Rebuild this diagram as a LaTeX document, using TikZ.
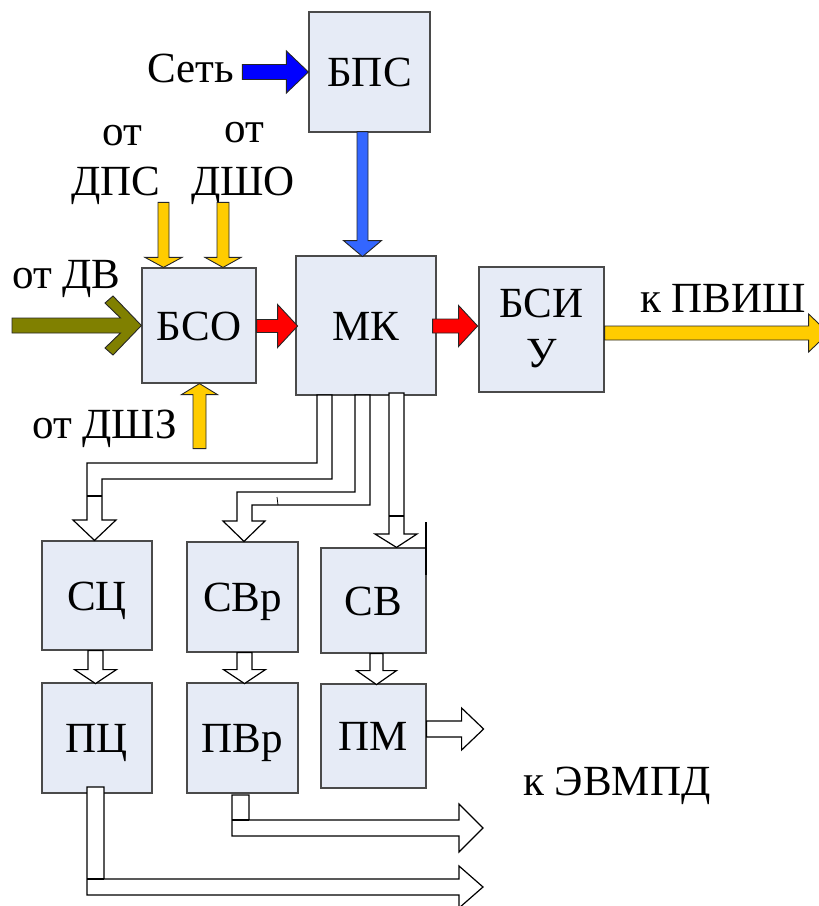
\documentclass[tikz,border=0pt]{standalone}
\usepackage{fontspec}
\setmainfont{Liberation Serif}
\usetikzlibrary{calc}

\definecolor{boxfill}{HTML}{E6EBF6}
\definecolor{boxline}{HTML}{4A4A4A}
\definecolor{amber}{HTML}{FFCC00}
\definecolor{olivegreen}{HTML}{808000}
\definecolor{netblue}{HTML}{0000FF}
\definecolor{feedblue}{HTML}{3366FF}
\definecolor{sigred}{HTML}{FF0000}

\newcommand\blockfont{\fontsize{43}{50}\selectfont}

\tikzset{
  unit/.style={draw=boxline, fill=boxfill, line width=1.2pt, inner sep=0pt,
               text height=29pt, text depth=0pt, font=\blockfont},
  lbl/.style={inner sep=0pt, font=\blockfont},
  solidarrow/.style={draw=black!85, line width=0.9pt},
  hollow/.style={draw=black, fill=white, line width=1.2pt, line join=miter},
  thinline/.style={draw=black, line width=1.2pt},
  % straight block arrow pointing along +x:
  % length, shaft half-width, head half-width, head length
  pics/barrow/.style n args={4}{code={
    \path[pic actions] (0,-#2) -- ({#1-#4},-#2) -- ({#1-#4},-#3) -- (#1,0)
      -- ({#1-#4},#3) -- ({#1-#4},#2) -- (0,#2) -- cycle;}},
}

\begin{document}
\begin{tikzpicture}[x=1pt,y=-1pt]
\useasboundingbox (0,0) rectangle (819,906);
\clip (0,0) rectangle (819,906);

% ---- blocks ----
\node[unit, minimum width=121pt, minimum height=120pt] (bps) at (369.5,72) {БПС};
\node[unit, minimum width=140pt, minimum height=139pt] (mk) at (366,325.5) {МК};
\node[unit, minimum width=114pt, minimum height=115pt] (bso) at (199,325.5) {БСО};
\node[unit, minimum width=125pt, minimum height=125pt] (bsiu) at (541.5,329.5) {};
\node[lbl, anchor=base] at (541.5,317) {БСИ};
\node[lbl, anchor=base] at (541.5,367) {У};

\node[unit, minimum width=110pt, minimum height=109pt] (sc) at (97,595.5) {СЦ};
\node[unit, minimum width=111pt, minimum height=110pt] (svr) at (242.5,597) {СВр};
\node[unit, minimum width=105pt, minimum height=105pt] (sv) at (373.5,600.5) {СВ};
\node[unit, minimum width=110pt, minimum height=110pt] (pc) at (97,738) {ПЦ};
\node[unit, minimum width=111pt, minimum height=110pt] (pvr) at (242.5,738) {ПВр};
\node[unit, minimum width=105pt, minimum height=104pt] (pm) at (373.5,736) {ПМ};

% ---- outer labels ----
\node[lbl, anchor=base] (lnet) at (191,82) {Сеть};
\node[lbl, anchor=base] at (122.5,145) {от};
\node[lbl, anchor=base] at (116,195) {ДПС};
\node[lbl, anchor=base] at (244.5,142) {от};
\node[lbl, anchor=base] at (243,195) {ДШО};
\node[lbl, anchor=base west] at (12,288) {от ДВ};
\node[lbl, anchor=base west] at (32,438) {от ДШЗ};
\node[lbl, anchor=base west] at (640,312) {к ПВИШ};
\node[lbl, anchor=base west] at (523,795) {к ЭВМПД};

% ---- coloured input / output arrows ----
\pic[solidarrow, fill=netblue] at ($(bps.west)+(-66,0)$) {barrow={66}{7.5}{21}{22}};
\pic[solidarrow, fill=feedblue, rotate=-90] at ($(bps.south)+(-7,-1)$) {barrow={125}{5.5}{19}{16}};
\pic[solidarrow, fill=amber, rotate=-90] at ($(bso.north)+(-35.5,-65)$) {barrow={65}{5.5}{18.5}{10}};
\pic[solidarrow, fill=amber, rotate=-90] at ($(bso.north)+(24,-65)$) {barrow={65}{6}{18}{10}};
\pic[solidarrow, fill=amber, rotate=90] at ($(bso.south)+(0.5,65)$) {barrow={65}{6.5}{18}{11}};
\pic[solidarrow, fill=sigred] at ($(bso.east)+(0,0.5)$) {barrow={41}{6.5}{21.5}{20}};
\pic[solidarrow, fill=sigred] at ($(mk.east)+(-4,0.5)$) {barrow={45}{7}{20.5}{19}};
\pic[solidarrow, fill=amber] at ($(bsiu.east)+(0,3.5)$) {barrow={224}{7}{19}{20}};

% chevron-headed arrow into БСО
\path[solidarrow, fill=olivegreen]
  (12,318) -- (120.5,318) -- (105,303) -- (113,296) -- (bso.west)
  -- (113,355) -- (105,348) -- (120.5,333) -- (12,333) -- cycle;

% ---- hollow bus arrows from МК ----
\path[hollow] (317,395) -- (317,463) -- (87,463) -- (87,520) -- (73,520)
  -- (sc.north -| 94.5,0) -- (116,520) -- (102,520) -- (102,479) -- (332,479)
  -- (332,395) -- cycle;
\draw[thinline] (87,496) -- (102,496);

\path[hollow] (355,395) -- (355,492) -- (237,492) -- (237,521) -- (223,521)
  -- (svr.north -| 244,0) -- (265,521) -- (252,521) -- (252,505) -- (370,505)
  -- (370,395) -- cycle;
\draw[black, line width=0.8pt] (277,497) -- (278,505);

\path[hollow] (389,393) -- (389,534) -- (375,534) -- (sv.north -| 396.5,0)
  -- (417,534) -- (404,534) -- (404,393) -- cycle;
\draw[thinline] (389,516) -- (404,516);
\draw[thinline] (426,522) -- (426,575);

% ---- hollow arrows between lower blocks ----
\pic[hollow, rotate=-90] at ($(sc.south)+(-1.5,0)$) {barrow={33}{7.5}{21}{14}};
\pic[hollow, rotate=-90] at ($(svr.south)+(2,0)$) {barrow={31}{7.5}{21}{14}};
\pic[hollow, rotate=-90] at ($(sv.south)+(3,0)$) {barrow={31}{6.5}{20}{14}};
\pic[hollow] at ($(pm.east)+(0,-7)$) {barrow={57}{8}{21}{22}};

% ---- outputs to ЭВМПД ----
\path[hollow] (232,795) -- (249,795) -- (249,820) -- (459,820) -- (459,804)
  -- (483,828) -- (459,852) -- (459,836) -- (232,836) -- cycle;
\draw[thinline] (232,820) -- (249,820);
\path[hollow] (87,787) -- (104,787) -- (104,879) -- (459,879) -- (459,866)
  -- (483,887) -- (459,908) -- (459,895) -- (87,895) -- cycle;
\draw[thinline] (87,879) -- (104,879);
\end{tikzpicture}
\end{document}
